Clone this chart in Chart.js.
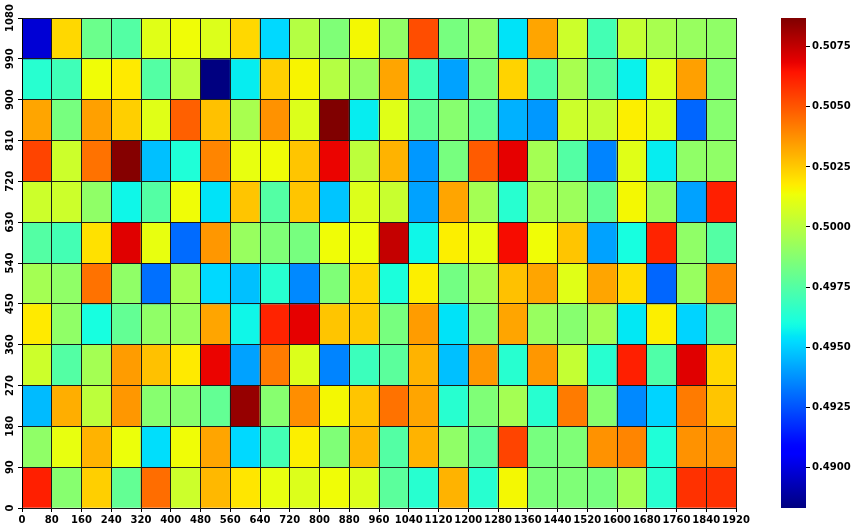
<!DOCTYPE html>
<html><head><meta charset="utf-8">
<script src="https://cdn.jsdelivr.net/npm/chart.js@4"></script>
<style>html,body{margin:0;padding:0;background:#fff;}#wrap{position:relative;width:856px;height:530px;}canvas{position:absolute;top:0;}</style>
</head><body><div id="wrap"><canvas id="main" width="856" height="530" style="left:0"></canvas><canvas id="cbar" width="75" height="530" style="left:781px"></canvas></div>
<script>
// x and y cell edges (tick labels)
const xTicks = [0,80,160,240,320,400,480,560,640,720,800,880,960,1040,1120,1200,1280,1360,1440,1520,1600,1680,1760,1840,1920];
const yTicks = [0,90,180,270,360,450,540,630,720,810,900,990,1080];
const cbTicks = [0.4900,0.4925,0.4950,0.4975,0.5000,0.5025,0.5050,0.5075];

// cell values, one array per row (bottom row first)
const row0   = [0.5062,0.4988,0.5024,0.4979,0.5045,0.5005,0.5029,0.5019,0.5012,0.5009,0.5014,0.5009,0.4977,0.4964,0.5030,0.4964,0.5015,0.4985,0.4986,0.4984,0.4995,0.4964,0.5058,0.5058];
const row90  = [0.4990,0.5012,0.5030,0.5013,0.4953,0.5014,0.5033,0.4952,0.4971,0.5017,0.4986,0.5029,0.4975,0.5030,0.4990,0.4977,0.5054,0.4984,0.4986,0.5037,0.5040,0.4962,0.5037,0.5036];
const row180 = [0.4946,0.5031,0.5001,0.5036,0.4988,0.4988,0.4979,0.5083,0.4988,0.5038,0.5015,0.5026,0.5044,0.5033,0.4964,0.4986,0.4995,0.4964,0.5042,0.4988,0.4936,0.4951,0.5042,0.5026];
const row270 = [0.5005,0.4975,0.4995,0.5035,0.5027,0.5018,0.5068,0.4941,0.5042,0.5009,0.4935,0.4969,0.4977,0.5030,0.4947,0.5036,0.4964,0.5036,0.5003,0.4964,0.5062,0.4974,0.5070,0.5022];
const row360 = [0.5018,0.4990,0.4960,0.4979,0.4990,0.4992,0.5033,0.4958,0.5061,0.5069,0.5026,0.5025,0.4984,0.5035,0.4954,0.4988,0.5033,0.4992,0.4988,0.4995,0.4955,0.5017,0.4951,0.4979];
const row450 = [0.4995,0.4990,0.5044,0.4990,0.4931,0.4995,0.4952,0.4947,0.4964,0.4936,0.4986,0.5022,0.4961,0.5017,0.4983,0.4995,0.5027,0.5033,0.5010,0.5033,0.5021,0.4929,0.4992,0.5039];
const row540 = [0.4975,0.4971,0.5020,0.5070,0.5012,0.4930,0.5036,0.4992,0.4986,0.4984,0.5014,0.5013,0.5075,0.4958,0.5017,0.5012,0.5066,0.5014,0.5026,0.4941,0.4960,0.5061,0.4990,0.4975];
const row630 = [0.5005,0.5005,0.4990,0.4958,0.4975,0.5014,0.4954,0.5026,0.4975,0.5026,0.4948,0.5009,0.5004,0.4941,0.5033,0.4995,0.4964,0.4996,0.4993,0.4979,0.5015,0.4992,0.4941,0.5062];
const row720 = [0.5054,0.5005,0.5044,0.5086,0.4947,0.4962,0.5040,0.5012,0.5014,0.5026,0.5068,0.5001,0.5030,0.4939,0.4984,0.5049,0.5069,0.4995,0.4975,0.4935,0.5010,0.4956,0.4990,0.4990];
const row810 = [0.5033,0.4984,0.5034,0.5024,0.5010,0.5048,0.5027,0.4996,0.5037,0.5009,0.5087,0.4956,0.5010,0.4979,0.4988,0.4979,0.4944,0.4939,0.5005,0.5003,0.5017,0.5010,0.4929,0.4988];
const row900 = [0.4964,0.4970,0.5014,0.5018,0.4975,0.5001,0.4883,0.4956,0.5024,0.5016,0.4999,0.4992,0.5033,0.4970,0.4941,0.4984,0.5023,0.4975,0.4996,0.4977,0.4957,0.5010,0.5034,0.4988];
const row990 = [0.4898,0.5022,0.4981,0.4975,0.5010,0.5014,0.5009,0.5022,0.4952,0.4999,0.4986,0.5015,0.4990,0.5052,0.4984,0.4990,0.4954,0.5033,0.5005,0.4971,0.5003,0.4996,0.4992,0.4990];

const rows = [row0,row90,row180,row270,row360,row450,row540,row630,row720,row810,row900,row990];
const allVals = rows.flat();
const vmin = Math.min(...allVals), vmax = Math.max(...allVals);

// matplotlib 'jet'
const JET = {
  r: [[0,0],[0.35,0],[0.66,1],[0.89,1],[1,0.5]],
  g: [[0,0],[0.125,0],[0.375,1],[0.64,1],[0.91,0],[1,0]],
  b: [[0,0.5],[0.11,1],[0.34,1],[0.65,0],[1,0]]
};
function seg(p, t){ for(let i=0;i<p.length-1;i++){ if(t<=p[i+1][0]){ const f=(t-p[i][0])/(p[i+1][0]-p[i][0]); return p[i][1]+f*(p[i+1][1]-p[i][1]); } } return p[p.length-1][1]; }
function jet(t){ t=Math.max(0,Math.min(1,t)); return 'rgb('+Math.round(255*seg(JET.r,t))+','+Math.round(255*seg(JET.g,t))+','+Math.round(255*seg(JET.b,t))+')'; }
const norm = v => (v - vmin) / (vmax - vmin);

const cells = [];
rows.forEach((row, r) => row.forEach((v, c) => {
  cells.push({ x: (xTicks[c] + xTicks[c+1]) / 2, y: [yTicks[r], yTicks[r+1]], v: v });
}));

const FONT = { family: '"DejaVu Sans", sans-serif', size: 10, weight: 'bold' };

const yLabelPlugin = {
  id: 'yLabels',
  afterDraw(chart) {
    const s = chart.scales.y, ctx = chart.ctx;
    ctx.save();
    ctx.font = 'bold 10px "DejaVu Sans", sans-serif';
    ctx.fillStyle = '#000';
    ctx.textAlign = 'center';
    ctx.textBaseline = 'middle';
    s.ticks.forEach(t => {
      const y = s.getPixelForValue(t.value);
      ctx.save();
      ctx.translate(s.right - 4 - 2 - 6, y);
      ctx.rotate(-Math.PI / 2);
      ctx.fillText(String(t.value), 0, 0);
      ctx.restore();
    });
    ctx.restore();
  }
};

new Chart(document.getElementById('main'), {
  type: 'bar',
  data: { datasets: [{
    data: cells,
    backgroundColor: cells.map(p => jet(norm(p.v))),
    borderWidth: 0,
    barPercentage: 1,
    categoryPercentage: 1,
    grouped: false
  }]},
  options: {
    responsive: false, animation: false,
    layout: { padding: { left: 0, top: 18, right: 120, bottom: 0 } },
    plugins: { legend: { display: false }, tooltip: { enabled: false } },
    scales: {
      x: {
        type: 'linear', min: 0, max: 1920, offset: false,
        afterBuildTicks: s => { s.ticks = xTicks.map(v => ({ value: v })); },
        ticks: { stepSize: 80, autoSkip: false, maxRotation: 0, minRotation: 0, maxTicksLimit: 100, padding: 2, color: '#000', font: FONT,
                 callback: v => String(v) },
        grid: { z: 1, offset: false, color: '#1a1a1a', lineWidth: 1, drawTicks: true, tickLength: 4, tickColor: '#000' },
        border: { z: 1, display: true, color: '#000' },
        afterFit: s => { s.height = 22; }
      },
      y: {
        type: 'linear', min: 0, max: 1080,
        afterBuildTicks: s => { s.ticks = yTicks.map(v => ({ value: v })); },
        ticks: { display: false, stepSize: 90, maxTicksLimit: 100 },
        grid: { z: 1, color: '#1a1a1a', lineWidth: 1, drawTicks: true, tickLength: 4, tickColor: '#000' },
        border: { z: 1, display: true, color: '#000' },
        afterFit: s => { s.width = 22; }
      }
    }
  },
  plugins: [yLabelPlugin]
});

new Chart(document.getElementById('cbar'), {
  type: 'bar',
  data: { labels: [''], datasets: [{
    data: [[vmin, vmax]],
    backgroundColor: (ctx) => {
      const ca = ctx.chart.chartArea;
      if (!ca) return '#888';
      const g = ctx.chart.ctx.createLinearGradient(0, ca.bottom, 0, ca.top);
      for (let i = 0; i <= 100; i++) g.addColorStop(i / 100, jet(i / 100));
      return g;
    },
    borderWidth: 0, barPercentage: 1, categoryPercentage: 1
  }]},
  options: {
    responsive: false, animation: false,
    layout: { padding: { left: 0, top: 18, right: 0, bottom: 22 } },
    plugins: { legend: { display: false }, tooltip: { enabled: false } },
    scales: {
      x: { display: false },
      y: {
        position: 'right', min: vmin, max: vmax,
        afterBuildTicks: s => { s.ticks = cbTicks.map(v => ({ value: v })); },
        ticks: { callback: v => Number(v).toFixed(4), padding: 2, color: '#000', font: FONT },
        grid: { drawOnChartArea: false, drawTicks: true, tickLength: 4, tickColor: '#000' },
        border: { display: false },
        afterFit: s => { s.width = 50; }
      }
    }
  }
});
</script></body></html>
